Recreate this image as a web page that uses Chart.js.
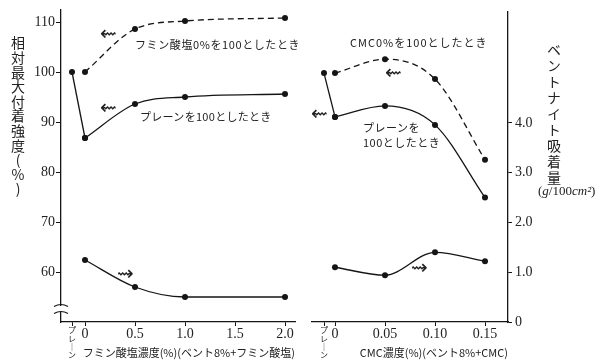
<!DOCTYPE html>
<html><head><meta charset="utf-8">
<script src="https://cdn.jsdelivr.net/npm/chart.js@4.4.0/dist/chart.umd.min.js"></script>
<style>
html,body{margin:0;padding:0;background:#fff;}
#wrap{position:relative;width:600px;height:361px;overflow:hidden;font-family:"Noto Sans CJK JP",sans-serif;color:#222;}
canvas{position:absolute;top:0;}
.t{position:absolute;white-space:nowrap;font-size:11px;line-height:1;}
.v{position:absolute;writing-mode:vertical-rl;text-orientation:upright;white-space:nowrap;line-height:1;}
.arr{position:absolute;font-family:"DejaVu Sans";font-size:20px;line-height:1;color:#222;}
</style></head><body>
<div id="wrap">
<canvas id="cL" width="300" height="361" style="left:0;width:300px;height:361px"></canvas>
<canvas id="cR" width="300" height="361" style="left:300px;width:300px;height:361px"></canvas>

<div class="v" style="left:11px;top:36px;font-size:14px;letter-spacing:0.6px;">相対最大付着強度(%)</div>
<div class="v" style="left:547px;top:43px;font-size:14px;letter-spacing:2px;">ベントナイト吸着量</div>
<div class="t" style="left:538px;top:184px;font-family:'Liberation Serif';font-size:13px;">(<i>g</i>/100<i>cm²</i>)</div>

<div class="t" style="left:135px;top:39px;letter-spacing:0.6px;">フミン酸塩0%を100としたとき</div>
<div class="t" style="left:140px;top:111px;letter-spacing:0.3px;">プレーンを100としたとき</div>
<div class="t" style="left:350px;top:37px;letter-spacing:1.0px;">CMC0%を100としたとき</div>
<div class="t" style="left:363px;top:122px;letter-spacing:0.5px;">プレーンを</div>
<div class="t" style="left:363px;top:137px;letter-spacing:0.5px;">100としたとき</div>

<div class="arr" style="left:100px;top:23px;">⇜</div>
<div class="arr" style="left:100px;top:97px;">⇜</div>
<div class="arr" style="left:311px;top:103px;">⇜</div>
<div class="arr" style="left:385px;top:62px;">⇜</div>
<div class="arr" style="left:117px;top:263px;">⇝</div>
<div class="arr" style="left:411px;top:257px;">⇝</div>
</div>
<script>
// ---- data ----
const plainValue = 100;               // プレーン reference value (%)
const plainPosLeft = -0.13;           // position of the プレーン category on the humate axis
const plainPosRight = -0.011;         // position of the プレーン category on the CMC axis

const humicX = [0, 0.5, 1.0, 2.0];
const humicDashed = [100, 108.6, 110.2, 110.8];   // フミン酸塩0%を100としたとき
const humicSolid  = [86.8, 93.6, 95.0, 95.6];     // プレーンを100としたとき
const humicAdsorb = [1.24, 0.70, 0.50, 0.50];     // ベントナイト吸着量 (g/100cm²)
const humicTicks = [0, 0.5, 1.0, 1.5, 2.0];

const cmcX = [0, 0.05, 0.10, 0.15];
const cmcDashed = [100, 102.8, 98.8, 82.6];       // CMC0%を100としたとき
const cmcSolid  = [91.2, 93.4, 89.6, 75.0];       // プレーンを100としたとき
const cmcAdsorb = [1.10, 0.94, 1.40, 1.22];
const cmcTicks = [0, 0.05, 0.10, 0.15];

const leftTicks = [60, 70, 80, 90, 100, 110];
const rightTicks = [0, 1, 2, 3, 4];
const plainLabel = ['プ', 'レ', '｜', 'ン'];

// ---- helpers ----
const INK = '#151515';
function xy(xs, ys) { return xs.map((x, i) => ({ x: x, y: ys[i] })); }
function line(data, axis, dash, curved) {
  return {
    data: data, yAxisID: axis, borderColor: INK, borderWidth: 1.3,
    borderDash: dash ? [6, 4] : [], pointRadius: 3, pointBackgroundColor: INK,
    pointBorderWidth: 0, fill: false,
    cubicInterpolationMode: curved ? 'monotone' : 'default', tension: curved ? 0.4 : 0
  };
}
const numFont = { family: 'Liberation Serif', size: 14 };
function xAxis(min, max, plainPos, ticks, fmt, title, align) {
  return {
    type: 'linear', position: 'bottom', min: min, max: max,
    border: { color: INK, width: 1.3 },
    grid: { display: true, drawOnChartArea: false, tickLength: 4, color: INK },
    afterBuildTicks: s => { s.ticks = [plainPos].concat(ticks).map(v => ({ value: v })); },
    afterFit: s => { s.height = 39; },
    ticks: {
      autoSkip: false, maxRotation: 0, padding: 0, color: '#222',
      font: c => (c.tick && c.tick.value === plainPos) ? { family: 'Noto Sans CJK JP', size: 8, lineHeight: 1.05 } : { family: 'Liberation Serif', size: 14 },
      callback: v => v === plainPos ? plainLabel : fmt(v)
    },
    title: { display: true, text: title, align: align, color: '#222', padding: { top: 0, bottom: 2 },
             font: { family: 'Noto Sans CJK JP', size: 11 } }
  };
}

const breakPlugin = {
  id: 'axisBreak',
  afterDraw(chart) {
    const y = chart.scales.yL.getPixelForValue(52.6);
    const x = chart.chartArea.left;
    const c = chart.ctx;
    c.save();
    c.fillStyle = '#fff';
    c.fillRect(x - 3, y - 3, 6, 6);
    c.strokeStyle = INK; c.lineWidth = 1.2;
    [-3.5, 3.5].forEach(d => {
      c.beginPath();
      c.moveTo(x - 7, y + d + 1);
      c.quadraticCurveTo(x, y + d - 3, x + 7, y + d + 1);
      c.stroke();
    });
    c.restore();
  }
};

Chart.defaults.animation = false;

new Chart(document.getElementById('cL'), {
  type: 'line',
  data: { datasets: [
    line([{ x: plainPosLeft, y: plainValue }, { x: humicX[0], y: humicSolid[0] }], 'yL', false, false),
    line(xy(humicX, humicSolid), 'yL', false, true),
    line(xy(humicX, humicDashed), 'yL', true, true),
    line(xy(humicX, humicAdsorb), 'yR', false, true)
  ] },
  options: {
    responsive: false, devicePixelRatio: 1,
    layout: { padding: { top: 10, right: 5, left: 0, bottom: 0 } },
    plugins: { legend: { display: false }, tooltip: { enabled: false } },
    scales: {
      x: xAxis(-0.24, 2.10, plainPosLeft, humicTicks, v => v === 0 ? '0' : v.toFixed(1),
               'フミン酸塩濃度(%)(ベント8%+フミン酸塩)', 'end'),
      yL: {
        type: 'linear', position: 'left', min: 50, max: 112.4,
        border: { color: INK, width: 1.3 },
        grid: { display: true, drawOnChartArea: false, tickLength: 5, color: INK },
        afterBuildTicks: s => { s.ticks = leftTicks.map(v => ({ value: v })); },
        afterFit: s => { s.width = 61; },
        ticks: { font: numFont, color: '#222', padding: 1, callback: v => String(v) }
      },
      yR: { type: 'linear', display: false, min: 0, max: 6.24 }
    }
  },
  plugins: [breakPlugin]
});

new Chart(document.getElementById('cR'), {
  type: 'line',
  data: { datasets: [
    line([{ x: plainPosRight, y: plainValue }, { x: cmcX[0], y: cmcSolid[0] }], 'yL', false, false),
    line(xy(cmcX, cmcSolid), 'yL', false, true),
    line(xy(cmcX, cmcDashed), 'yL', true, true),
    line(xy(cmcX, cmcAdsorb), 'yR', false, true)
  ] },
  options: {
    responsive: false, devicePixelRatio: 1,
    layout: { padding: { top: 10, right: 0, left: 12, bottom: 0 } },
    plugins: { legend: { display: false }, tooltip: { enabled: false } },
    scales: {
      x: xAxis(-0.023, 0.173, plainPosRight, cmcTicks, v => v === 0 ? '0' : v.toFixed(2),
               'CMC濃度(%)(ベント8%+CMC)', 'end'),
      yL: { type: 'linear', display: false, min: 50, max: 112.4 },
      yR: {
        type: 'linear', position: 'right', min: 0, max: 6.24,
        border: { color: INK, width: 1.3 },
        grid: { display: true, drawOnChartArea: false, tickLength: 4, color: INK },
        afterBuildTicks: s => { s.ticks = rightTicks.map(v => ({ value: v })); },
        afterFit: s => { s.width = 92; },
        ticks: { font: numFont, color: '#222', padding: 3, callback: v => v === 0 ? '0' : v.toFixed(1) }
      }
    }
  }
});
</script>
</body></html>
